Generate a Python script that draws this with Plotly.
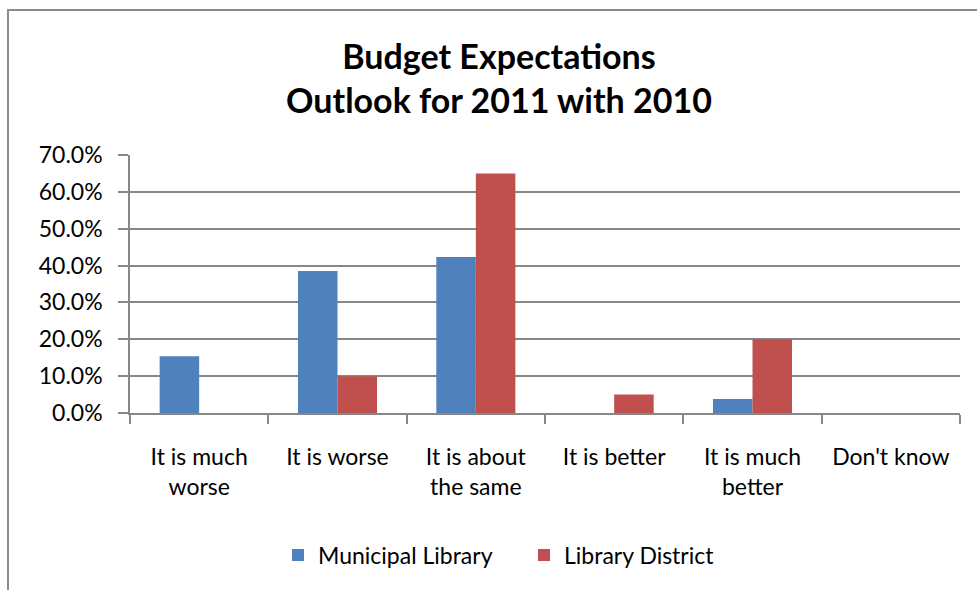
import plotly.graph_objects as go

# Survey responses: budget outlook for 2011 compared with 2010
categories = ["It is much<br>worse", "It is worse", "It is about<br>the same",
              "It is better", "It is much<br>better", "Don't know"]
municipal_library = [0.154, 0.385, 0.423, 0.0, 0.038, 0.0]
library_district = [0.0, 0.10, 0.65, 0.05, 0.20, 0.0]
y_ticks = [0.0, 0.1, 0.2, 0.3, 0.4, 0.5, 0.6, 0.7]

FONT = "Lato"
GRID = "#878787"

fig = go.Figure()
fig.add_trace(go.Bar(name="Municipal Library", x=categories, y=municipal_library,
                     marker=dict(color="#4F81BD", line=dict(width=0))))
fig.add_trace(go.Bar(name="Library District", x=categories, y=library_district,
                     marker=dict(color="#C0504D", line=dict(width=0))))

W, H = 977, 590
L, R, T, B = 130, 17, 155, 177
pw, ph = W - L - R, H - T - B


def px_x(x):
    return (x - L) / pw


def px_y(y):
    return (H - B - y) / ph


fig.update_layout(
    width=W, height=H,
    margin=dict(l=L, r=R, t=T, b=B),
    paper_bgcolor="white", plot_bgcolor="white",
    font=dict(family=FONT, size=23, color="black"),
    barmode="group", bargap=0.4286, bargroupgap=0,
    title=dict(text="<b>Budget Expectations<br>Outlook for 2011 with 2010</b>",
               x=499 / W, xanchor="center", xref="container",
               y=1 - 69 / H, yanchor="middle", yref="container",
               font=dict(family=FONT, size=34, color="black")),
    xaxis=dict(showline=True, linecolor=GRID, linewidth=1.5,
               ticks="outside", ticklen=9, tickcolor=GRID, tickwidth=1.5,
               tickson="boundaries", showgrid=False, ticklabelstandoff=23,
               tickfont=dict(family=FONT, size=23)),
    yaxis=dict(range=[0, 0.7], tickvals=y_ticks, tickformat=".1%",
               showline=True, linecolor=GRID, linewidth=1.5,
               ticks="outside", ticklen=10, tickcolor=GRID, tickwidth=1.5,
               showgrid=True, gridcolor=GRID, gridwidth=1.5, zeroline=False,
               ticklabelstandoff=11, tickfont=dict(family=FONT, size=23)),
    legend=dict(orientation="h", x=px_x(278), xanchor="left",
                y=px_y(555), yanchor="middle", entrywidth=201,
                font=dict(family=FONT, size=23), bgcolor="rgba(0,0,0,0)"),
    showlegend=True,
)

# Chart frame (outer border)
fig.add_shape(type="rect", xref="paper", yref="paper",
              x0=px_x(8), x1=px_x(990), y0=px_y(600), y1=px_y(10),
              line=dict(color="#8C8C8C", width=2), fillcolor="rgba(0,0,0,0)",
              layer="below")

fig.write_html("out.html")
